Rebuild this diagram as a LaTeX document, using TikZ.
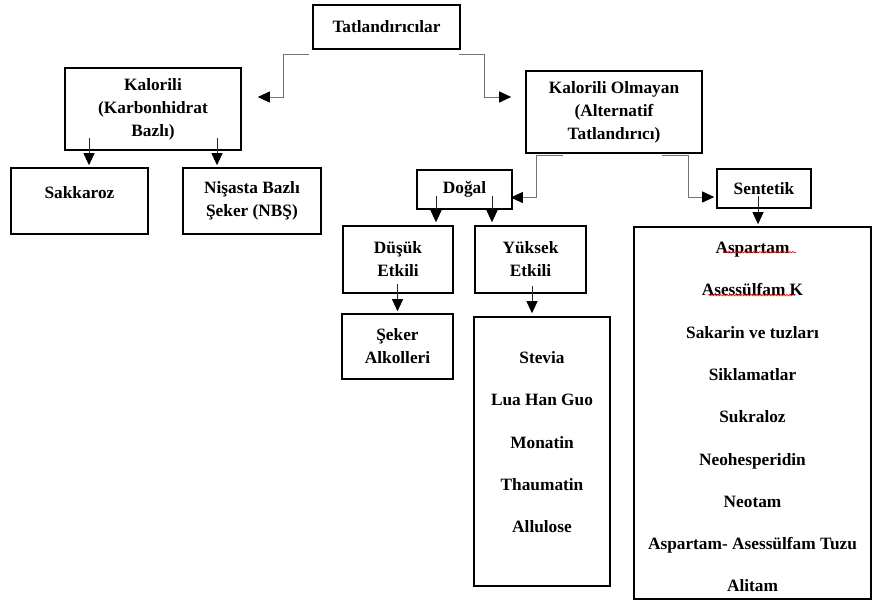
\documentclass[tikz,border=0pt]{standalone}
\usepackage{fontspec}
\setmainfont{Liberation Serif}
\usetikzlibrary{arrows.meta, positioning, decorations.pathmorphing}

\tikzset{
  box/.style={draw, line width=1.6pt, align=center, inner sep=2pt,
    font=\fontsize{17.3}{23}\selectfont\bfseries},
  listbox/.style={box, font=\fontsize{17.3}{42.3}\selectfont\bfseries},
  elbow/.style={draw=black!55, line width=0.9pt,
    -{Triangle[length=12pt,width=11pt,color=black]}},
  vline/.style={draw=black!85, line width=0.8pt,
    -{Triangle[length=12pt,width=11pt,color=black]}},
  squiggle/.style={red, line width=0.6pt, decorate,
    decoration={snake, amplitude=0.8pt, segment length=3pt}}
}

\begin{document}
\begin{tikzpicture}[x=1pt, y=-1pt]
\useasboundingbox (0,0) rectangle (872,603);

% --- Top: root box ---
\node[box, minimum width=147, minimum height=44] (root) at (386.5,27) {Tatlandırıcılar};

% --- Second row ---
\node[box, minimum width=176, minimum height=82] (kal) at (153,109)
  {Kalorili\\(Karbonhidrat\\Bazlı)};
\node[box, minimum width=176, minimum height=82] (kalol) at (614,112)
  {Kalorili Olmayan\\(Alternatif\\Tatlandırıcı)};

% --- Left branch ---
\node[box, minimum width=137, minimum height=66, text depth=18pt] (sak) at (79.5,201) {Sakkaroz};
\node[box, minimum width=138, minimum height=66] (nbs) at (252,201) {Nişasta Bazlı\\Şeker (NBŞ)};

% --- Right branch ---
\node[box, minimum width=95, minimum height=39] (dogal) at (464.5,189.5) {Doğal};
\node[box, minimum width=94, minimum height=39] (sent) at (764,188.5) {Sentetik};

\node[box, minimum width=110, minimum height=67] (dusuk) at (398,259.5) {Düşük\\Etkili};
\node[box, minimum width=111, minimum height=67] (yuksek) at (530.5,259.5) {Yüksek\\Etkili};
\node[box, minimum width=111, minimum height=65] (seker) at (397.5,346.5) {Şeker\\Alkolleri};

% lists
\node[listbox, minimum width=136, minimum height=269, text depth=19pt] (dogallist) at (542,451.5)
  {Stevia\\Lua Han Guo\\Monatin\\Thaumatin\\Allulose};
\node[listbox, minimum width=237, minimum height=372, text height=358pt] (sentlist) at (752.5,413)
  {Aspartam\\Asessülfam K\\Sakarin ve tuzları\\Siklamatlar\\Sukraloz\\Neohesperidin\\Neotam\\Aspartam- Asessülfam Tuzu\\Alitam};

% --- Elbow connectors ---
\draw[elbow] ([xshift=-3pt,yshift=-5pt]root.south west)
  -| ([xshift=42pt,yshift=12pt]kal.east) -- ([xshift=16pt,yshift=12pt]kal.east);
\draw[elbow] ([xshift=-2pt,yshift=-5pt]root.south east)
  -| ([xshift=-41pt,yshift=15pt]kalol.west) -- ([xshift=-14pt,yshift=15pt]kalol.west);
\draw[elbow] ([xshift=-51pt,yshift=-2pt]kalol.south)
  -| ([xshift=24pt,yshift=-8pt]dogal.east) -- ([xshift=-2pt,yshift=-8pt]dogal.east);
\draw[elbow] ([xshift=48pt,yshift=-2pt]kalol.south)
  -| ([xshift=-28pt,yshift=-8.5pt]sent.west) -- ([xshift=-2pt,yshift=-8.5pt]sent.west);

% --- Straight arrows down ---
\draw[vline] ([xshift=9.5pt,yshift=29pt]sak.north) -- ([xshift=9.5pt,yshift=2pt]sak.north);
\draw[vline] ([xshift=-35pt,yshift=29pt]nbs.north) -- ([xshift=-35pt,yshift=2pt]nbs.north);
\draw[vline] ([xshift=38pt,yshift=29pt]dusuk.north) -- ([xshift=38pt,yshift=3pt]dusuk.north);
\draw[vline] ([xshift=-38.5pt,yshift=29pt]yuksek.north) -- ([xshift=-38.5pt,yshift=3pt]yuksek.north);
\draw[vline] ([yshift=29pt]seker.north) -- ([yshift=2pt]seker.north);
\draw[vline] ([xshift=-10pt,yshift=30pt]dogallist.north) -- ([xshift=-10pt,yshift=3pt]dogallist.north);
\draw[vline] ([xshift=5.5pt,yshift=30pt]sentlist.north) -- ([xshift=5.5pt,yshift=2pt]sentlist.north);

% spell-check marks
\draw[squiggle] ([xshift=-29.5pt,yshift=-26pt]sentlist.north) -- ([xshift=43.5pt,yshift=-26pt]sentlist.north);
\draw[squiggle] ([xshift=-44.5pt,yshift=-69pt]sentlist.north) -- ([xshift=42.5pt,yshift=-69pt]sentlist.north);

\end{tikzpicture}
\end{document}
